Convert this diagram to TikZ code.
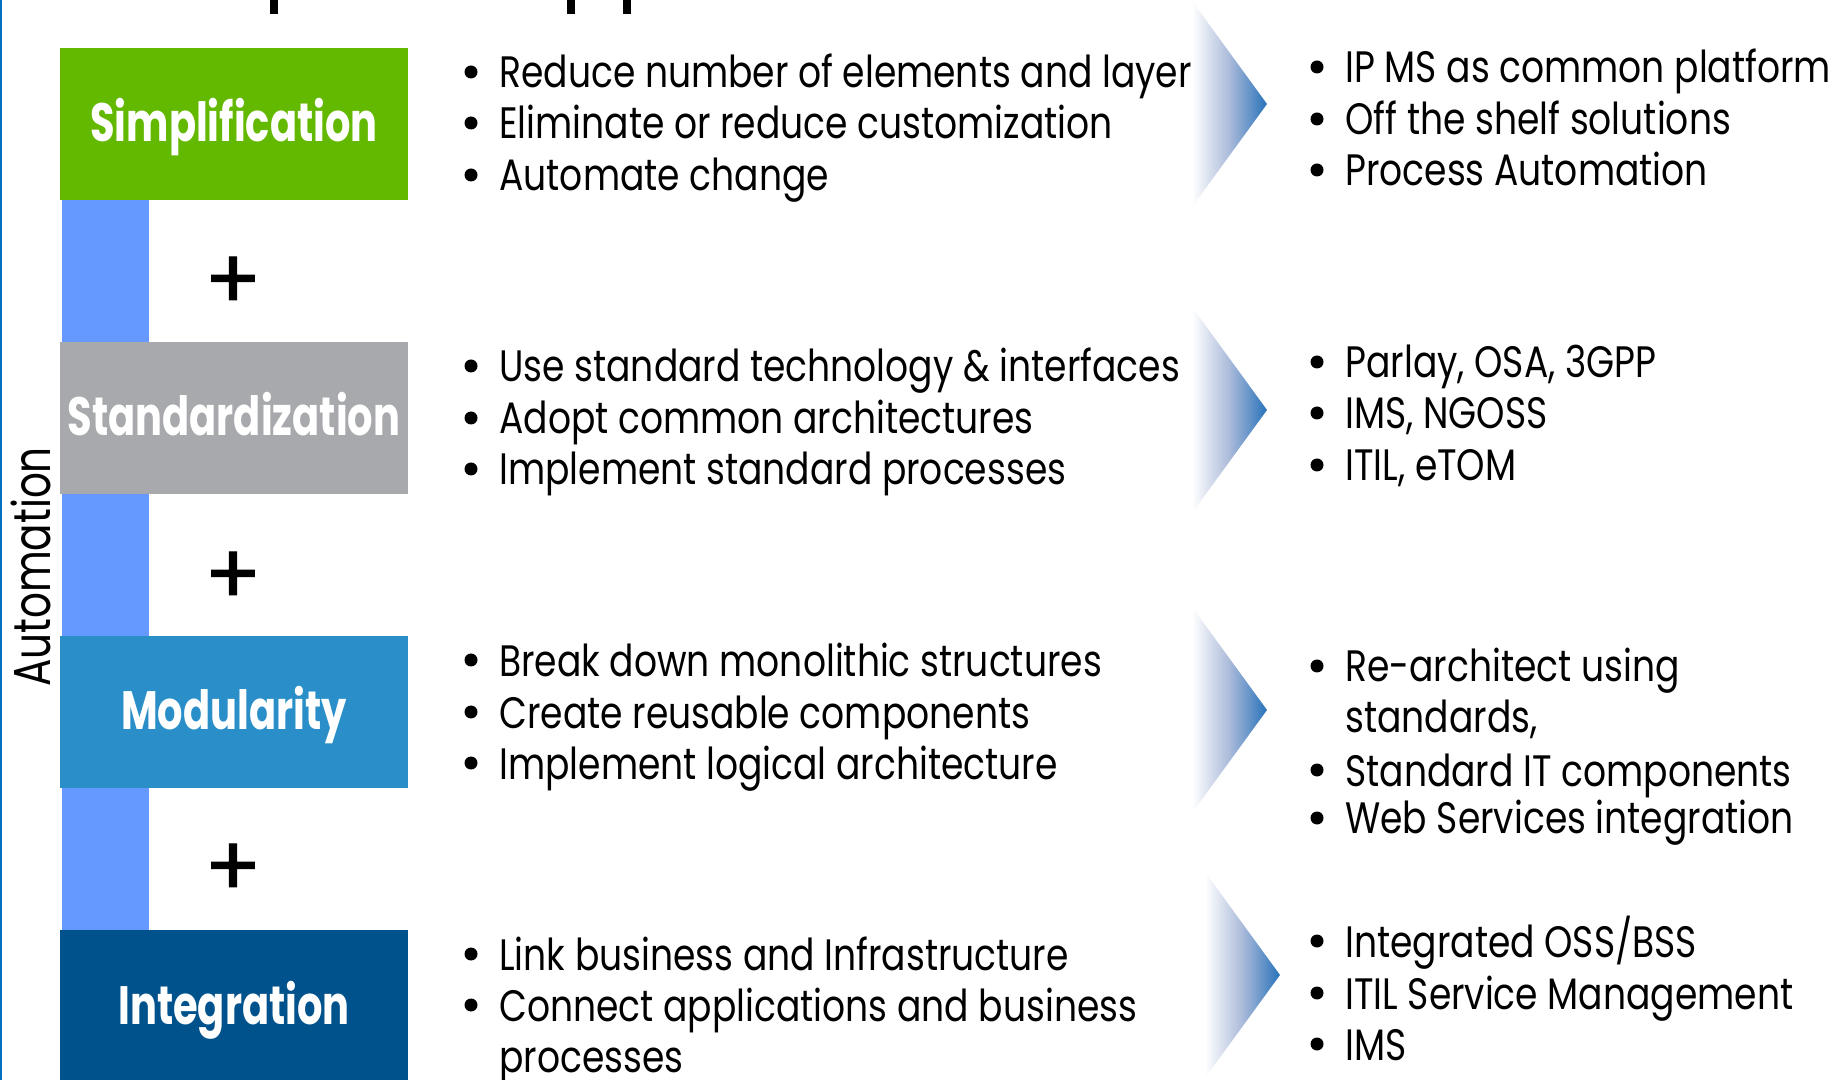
\documentclass[tikz,border=0pt]{standalone}
\usepackage{fontspec}
\setmainfont{Poppins}
\newfontfamily\bodyfam[FakeStretch=0.82]{Poppins}
\newfontfamily\autofam[FakeStretch=0.78]{Poppins}
\newfontfamily\plusfam[FakeBold=1.2]{Poppins}
\newfontfamily\labfam[FakeStretch=0.74]{Poppins Bold}
\usetikzlibrary{calc}
\definecolor{simpgreen}{RGB}{99,184,0}
\definecolor{stdgray}{RGB}{168,169,173}
\definecolor{modblue}{RGB}{42,143,201}
\definecolor{intblue}{RGB}{0,82,140}
\definecolor{barblue}{RGB}{102,153,255}
\definecolor{edgeblue}{RGB}{0,112,192}
\definecolor{tipblue}{RGB}{40,114,185}
\definecolor{midblue}{RGB}{170,186,218}
\tikzset{
  box/.style={rectangle, inner sep=0, minimum width=174pt, minimum height=76pt,
    text height=22pt, text depth=4pt,
    text=white, font=\labfam\fontsize{27}{30}\selectfont},
  body/.style={anchor=base west, inner sep=0, font=\bodyfam\fontsize{22}{26}\selectfont},
  bul/.style={circle, fill=black, inner sep=0, minimum size=6.5pt},
  plus/.style={inner sep=0, font=\plusfam\fontsize{42}{42}\selectfont},
  chev/.style={left color=white, right color=tipblue, middle color=midblue},
}
\newcommand\bitem[4]{%
  \node[bul] (#1b) at ({#2-28},{#3-16}) {};
  \node[body] (#1) at (#2,#3) {#4};}
\newcommand\citem[4]{\node[body] (#1) at (#2,#3) {#4};}
\newcommand\chevron[2]{% tip x, tip y
  \path[chev] ({#1-75},{#2-103}) -- (#1,#2) -- ({#1-75},{#2+103}) -- cycle;}
\begin{document}
\begin{tikzpicture}[x=0.5pt,y=-0.5pt]
\useasboundingbox (0,0) rectangle (1844,1080);
\clip (0,0) rectangle (1844,1080);
% left edge line
\coordinate (lt) at (1,0);
\coordinate (lb) at (1,1080);
\draw[edgeblue, line width=1.2pt] (lt) -- (lb);
% title descenders (cut off)
\fill (270,0) rectangle (278,14);
\fill (567,0) rectangle (575,14);
\fill (623,0) rectangle (631,14);
% boxes
\node[box, fill=simpgreen] (simp) at (234,124) {Simplification};
\node[box, fill=stdgray] (stand) at (234,418) {Standardization};
\node[box, fill=modblue] (mod) at (234,712) {Modularity};
\node[box, fill=intblue] (integ) at (234,1006) {Integration};
% blue bar between boxes
\fill[barblue] ($(simp.south west)+(2,0)$) rectangle ($(stand.north west)+(89,0)$);
\fill[barblue] ($(stand.south west)+(2,0)$) rectangle ($(mod.north west)+(89,0)$);
\fill[barblue] ($(mod.south west)+(2,0)$) rectangle ($(integ.north west)+(89,0)$);
% plus signs
\node[plus] (p1) at (233,283) {+};
\node[plus] (p2) at (233,578) {+};
\node[plus] (p3) at (233,870) {+};
% Automation
\node[rotate=90, inner sep=0, font=\autofam\fontsize{26}{28}\selectfont] (auto) at (31,567) {Automation};
% chevrons
\chevron{1267}{104}
\chevron{1267}{410}
\chevron{1267}{710}
\chevron{1280}{975}
% column A
\bitem{a11}{499}{88}{Reduce number of elements and layer}
\bitem{a12}{499}{139}{Eliminate or reduce customization}
\bitem{a13}{499}{191}{Automate change}
\bitem{a21}{499}{382}{Use standard technology \& interfaces}
\bitem{a22}{499}{434}{Adopt common architectures}
\bitem{a23}{499}{485}{Implement standard processes}
\bitem{a31}{499}{676}{Break down monolithic structures}
\bitem{a32}{499}{728}{Create reusable components}
\bitem{a33}{499}{779}{Implement logical architecture}
\bitem{a41}{499}{970}{Link business and Infrastructure}
\bitem{a42}{499}{1021}{Connect applications and business}
\citem{a43}{499}{1072}{processes}
% column B
\bitem{b11}{1345}{83}{IP MS as common platform}
\bitem{b12}{1345}{135}{Off the shelf solutions}
\bitem{b13}{1345}{186}{Process Automation}
\bitem{b21}{1345}{378}{Parlay, OSA, 3GPP}
\bitem{b22}{1345}{429}{IMS, NGOSS}
\bitem{b23}{1345}{481}{ITIL, eTOM}
\bitem{b31}{1345}{682}{Re-architect using}
\citem{b32}{1345}{733}{standards,}
\bitem{b33}{1345}{786}{Standard IT components}
\bitem{b34}{1345}{834}{Web Services integration}
\bitem{b41}{1345}{957}{Integrated OSS/BSS}
\bitem{b42}{1345}{1009}{ITIL Service Management}
\bitem{b43}{1345}{1060}{IMS}
\end{tikzpicture}
\end{document}
